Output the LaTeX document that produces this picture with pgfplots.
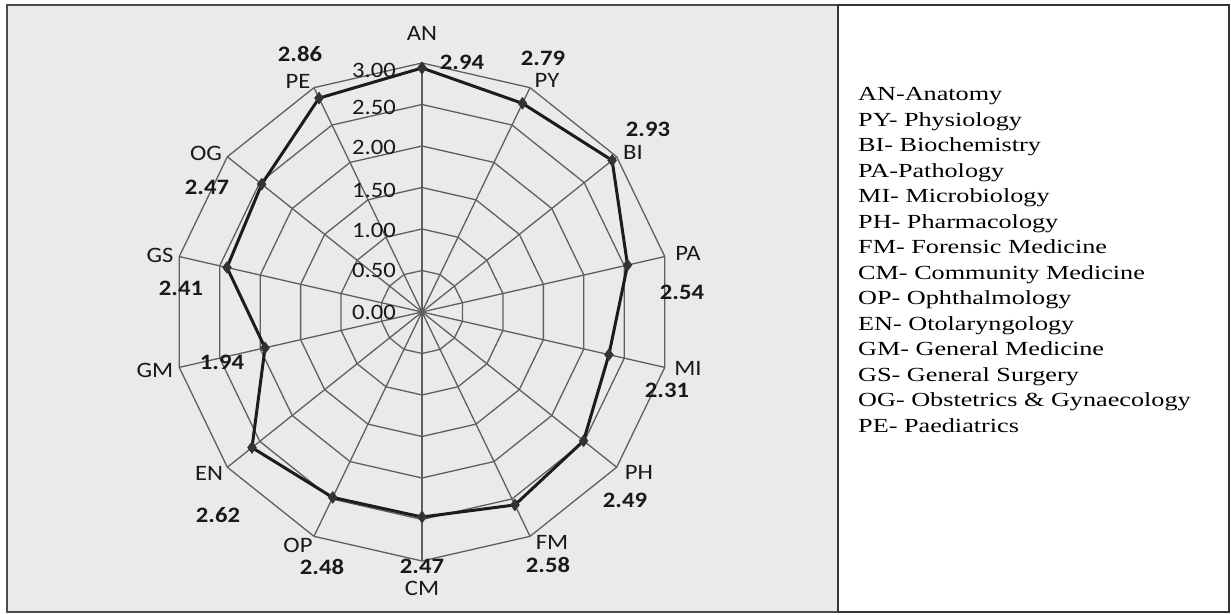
\documentclass[border=0pt]{standalone}
\usepackage{pgfplots}
\pgfplotsset{compat=1.18}
\usepackage{fontspec}
\setmainfont{Liberation Serif}
\newfontfamily\calfont{Carlito}
\definecolor{panelbg}{RGB}{233,234,236}
\definecolor{gridc}{RGB}{95,95,95}
\definecolor{datac}{RGB}{28,28,28}
\definecolor{txt}{RGB}{25,25,25}
% chart labels (pixel coordinates of the reference, y from top)
\newcommand{\clab}[3]{\node[anchor=center,inner sep=0pt,text=txt] at (#1pt,{615pt-#2pt}) {\scalebox{1.12}[1]{\calfont\fontsize{22}{26}\selectfont #3}};}
\newcommand{\vlab}[3]{\node[anchor=center,inner sep=0pt,text=txt] at (#1pt,{615pt-#2pt}) {\scalebox{1.12}[1]{\calfont\bfseries\fontsize{22}{26}\selectfont #3}};}
\newcommand{\tlab}[2]{\node[anchor=east,inner sep=0pt,text=txt] at (396pt,{615pt-#1pt}) {\scalebox{1.12}[1]{\calfont\fontsize{22}{26}\selectfont #2}};}
\newcommand{\leg}[2]{\node[anchor=base west,inner sep=0pt,text=black] at (858pt,{615pt-#1pt}) {\scalebox{1.31}[1]{\fontsize{20}{24}\selectfont #2}};}
\begin{document}
\begin{tikzpicture}
\useasboundingbox (0pt,0pt) rectangle (1231pt,615pt);
\fill[white] (0pt,0pt) rectangle (1231pt,615pt);
\fill[panelbg] (7pt,3pt) rectangle (838pt,610pt);
\draw[black!70, line width=1.3pt] (7pt,3pt) rectangle (838pt,610pt);
\draw[black!80, line width=1.5pt] (838pt,3pt) rectangle (1229pt,610pt);
\begin{axis}[
  at={(0pt,0pt)}, anchor=south west,
  scale only axis, x=83pt, y=83pt,
  xmin=-5.0843, xmax=9.7470, ymin=-3.6506, ymax=3.7590,
  enlargelimits=false, hide axis, clip=false]
% polygon rings
\pgfplotsinvokeforeach{0.5,1.0,1.5,2.0,2.5,3.0}{
  \addplot[gridc, line width=1.3pt, data cs=polar, line join=miter] coordinates {
    (90,#1) (64.2857,#1) (38.5714,#1) (12.8571,#1) (-12.8571,#1) (-38.5714,#1)
    (-64.2857,#1) (-90,#1) (-115.7143,#1) (-141.4286,#1) (-167.1429,#1)
    (167.1429,#1) (141.4286,#1) (115.7143,#1) (90,#1)};
}
% spokes
\pgfplotsinvokeforeach{90,64.2857,38.5714,12.8571,-12.8571,-38.5714,-64.2857,-90,-115.7143,-141.4286,-167.1429,167.1429,141.4286,115.7143}{
  \addplot[gridc, line width=1.3pt, data cs=polar] coordinates {(#1,0) (#1,3)};
}
% data: AN PY BI PA MI PH FM CM OP EN GM GS OG PE
\addplot[datac, line width=3pt, line join=round, data cs=polar,
  mark=diamond*, mark size=6pt, mark options={fill=black!80, draw=black!80, line width=0.4pt}]
  coordinates {
    (90,2.94) (64.2857,2.79) (38.5714,2.93) (12.8571,2.54) (-12.8571,2.31)
    (-38.5714,2.49) (-64.2857,2.58) (-90,2.47) (-115.7143,2.48) (-141.4286,2.62)
    (-167.1429,1.94) (167.1429,2.41) (141.4286,2.47) (115.7143,2.86) (90,2.94)};
\end{axis}
% radial tick labels
\tlab{312}{0.00}
\tlab{270}{0.50}
\tlab{230}{1.00}
\tlab{190}{1.50}
\tlab{147}{2.00}
\tlab{107}{2.50}
\tlab{70}{3.00}
% category labels
\clab{422}{33}{AN}
\clab{547}{80}{PY}
\clab{633}{152}{BI}
\clab{688}{253}{PA}
\clab{688}{368}{MI}
\clab{639}{472}{PH}
\clab{552}{542}{FM}
\clab{422}{588}{CM}
\clab{298}{545}{OP}
\clab{209}{473}{EN}
\clab{155}{370}{GM}
\clab{160}{255}{GS}
\clab{206}{153}{OG}
\clab{298}{81}{PE}
% value labels
\vlab{462}{62}{2.94}
\vlab{543}{58}{2.79}
\vlab{648}{129}{2.93}
\vlab{682}{292}{2.54}
\vlab{667}{390}{2.31}
\vlab{625}{500}{2.49}
\vlab{548}{565}{2.58}
\vlab{422}{566}{2.47}
\vlab{322}{567}{2.48}
\vlab{218}{515}{2.62}
\vlab{222}{362}{1.94}
\vlab{181}{288}{2.41}
\vlab{207}{187}{2.47}
\vlab{300}{54}{2.86}
% legend text
\leg{100.7}{AN-Anatomy}
\leg{126.2}{PY- Physiology}
\leg{151.7}{BI- Biochemistry}
\leg{177.2}{PA-Pathology}
\leg{202.7}{MI- Microbiology}
\leg{228.2}{PH- Pharmacology}
\leg{253.7}{FM- Forensic Medicine}
\leg{279.2}{CM- Community Medicine}
\leg{304.7}{OP- Ophthalmology}
\leg{330.2}{EN- Otolaryngology}
\leg{355.7}{GM- General Medicine}
\leg{381.2}{GS- General Surgery}
\leg{406.7}{OG- Obstetrics \& Gynaecology}
\leg{432.2}{PE- Paediatrics}
\end{tikzpicture}
\end{document}
